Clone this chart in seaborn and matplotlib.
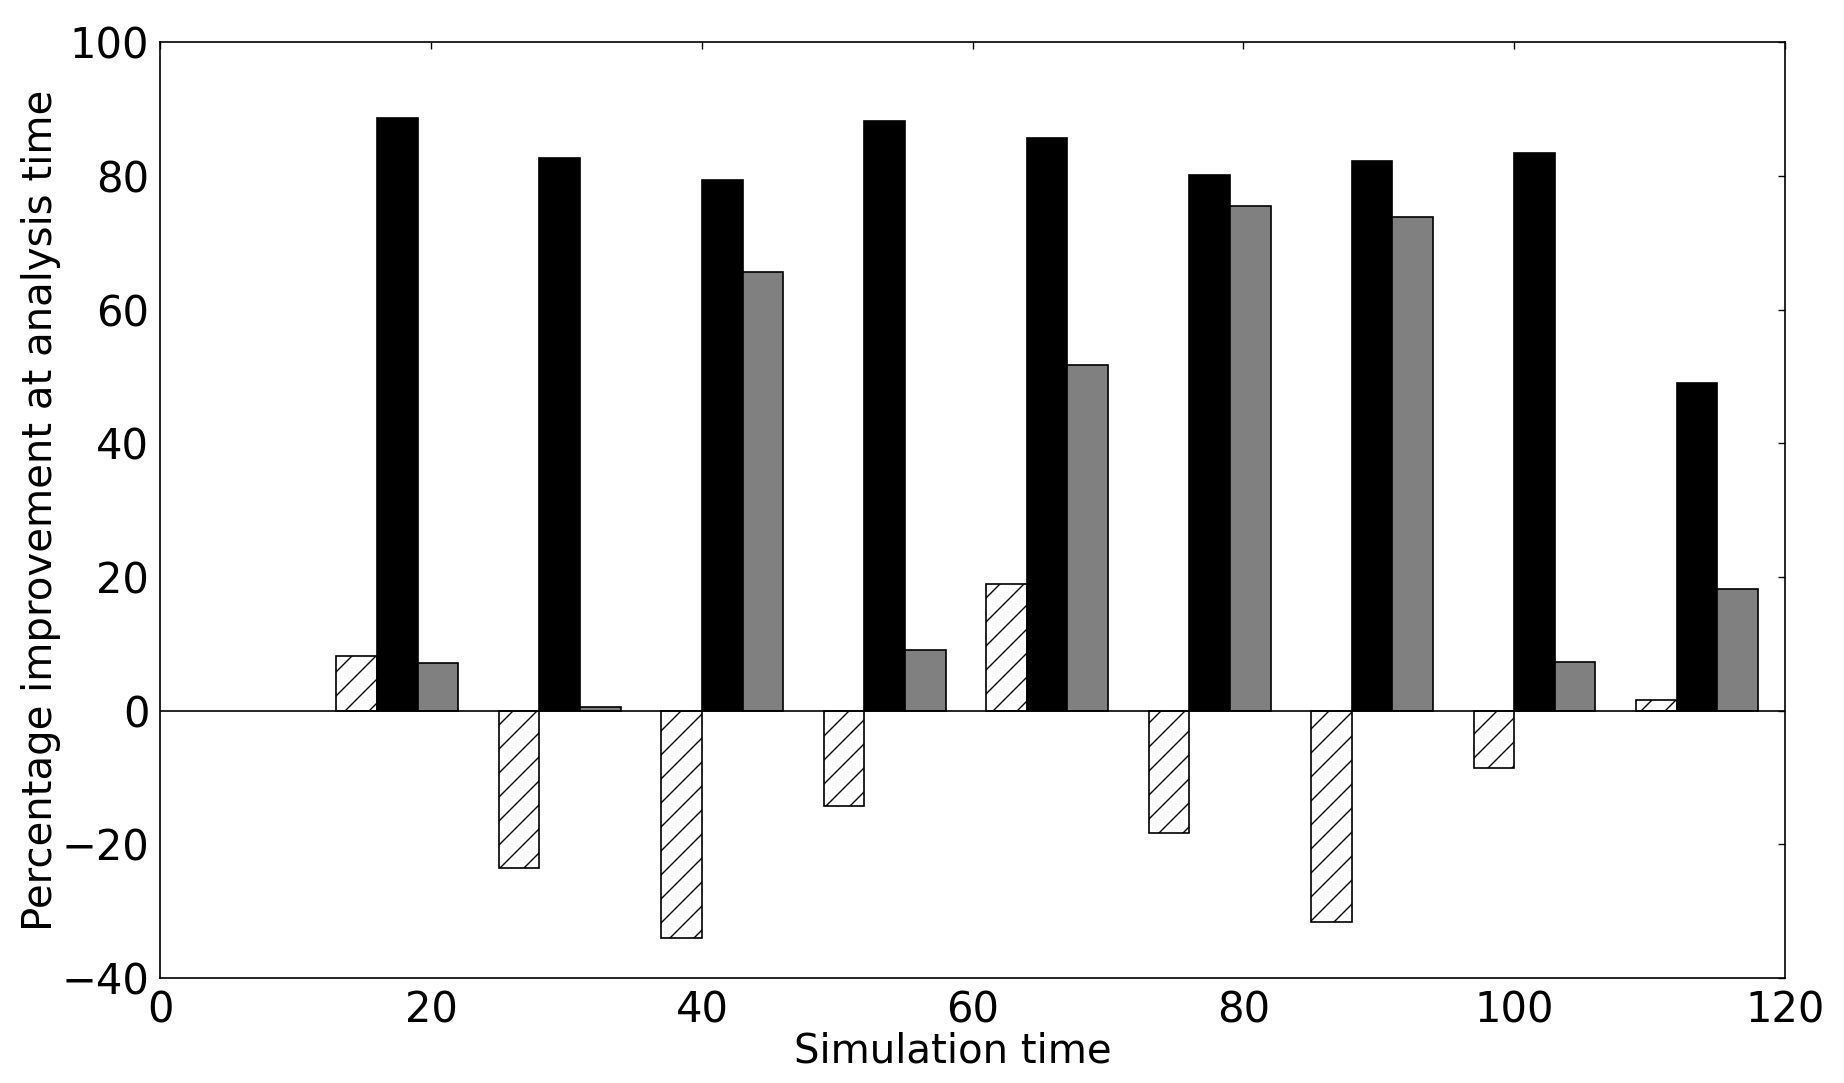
import numpy as np
import pandas as pd
import matplotlib
matplotlib.use("Agg")
import matplotlib.pyplot as plt
import seaborn as sb

# data
sim_times = [12, 24, 36, 48, 60, 72, 84, 96, 108]
series_names = ["A", "B", "C"]
improv_a = [8.1, -23.5, -34.0, -14.3, 19.0, -18.3, -31.6, -8.6, 1.6]
improv_b = [88.7, 82.7, 79.4, 88.2, 85.7, 80.2, 82.3, 83.4, 49.0]
improv_c = [7.05, 0.5, 65.6, 9.0, 51.7, 75.5, 73.9, 7.2, 18.2]

# low dpi so the hatch comes out as dense as in the original
dpi = 72
k = 100 / dpi

sb.set_style("white")
plt.rcParams["font.family"] = ["DejaVu Sans"]
plt.rcParams.update({
    "xtick.direction": "in", "ytick.direction": "in",
    "xtick.top": True, "ytick.right": True,
    "xtick.major.size": 5 * k, "ytick.major.size": 5 * k,
    "xtick.major.width": 1 * k, "ytick.major.width": 1 * k,
    "xtick.color": "black", "ytick.color": "black",
    "text.color": "black", "axes.labelcolor": "black",
    "hatch.linewidth": 1.0 * k,
})

df = pd.DataFrame({
    "time": np.tile(np.array(sim_times) + 5.5, 3),
    "series": np.repeat(series_names, len(sim_times)),
    "value": improv_a + improv_b + improv_c,
})

fig = plt.figure(figsize=(1844 / dpi, 1083 / dpi), dpi=dpi)
ax = fig.add_axes([0.087, 0.097, 0.881, 0.864])

sb.barplot(data=df, x="time", y="value", hue="series", native_scale=True,
           palette=["white", "black", "#808080"], edgecolor="black",
           linewidth=1.2 * k, width=0.75, errorbar=None, legend=False,
           saturation=1, ax=ax)

# white bars get the diagonal hatch
for p in ax.patches:
    fc = p.get_facecolor()
    if fc[0] > 0.9:
        p.set_hatch("/")

ax.axhline(0, color="black", linewidth=1.2 * k)
ax.set_xlim(0, 120)
ax.set_ylim(-40, 100)
ax.set_xticks(range(0, 121, 20))
ax.set_yticks(range(-40, 101, 20))
ax.set_yticklabels(["\u221240", "\u221220", "0", "20", "40", "60", "80", "100"])
ax.tick_params(labelsize=30 * k, pad=8 * k, colors="black")
ax.set_xlabel("Simulation time", fontsize=29 * k, labelpad=0)
ax.xaxis.label.set_x(0.488)
ax.set_ylabel("Percentage improvement at analysis time", fontsize=29 * k, labelpad=0)
for s in ax.spines.values():
    s.set_visible(True)
    s.set_color("black")
    s.set_linewidth(1.2 * k)

plt.savefig("out.png", dpi=dpi)
